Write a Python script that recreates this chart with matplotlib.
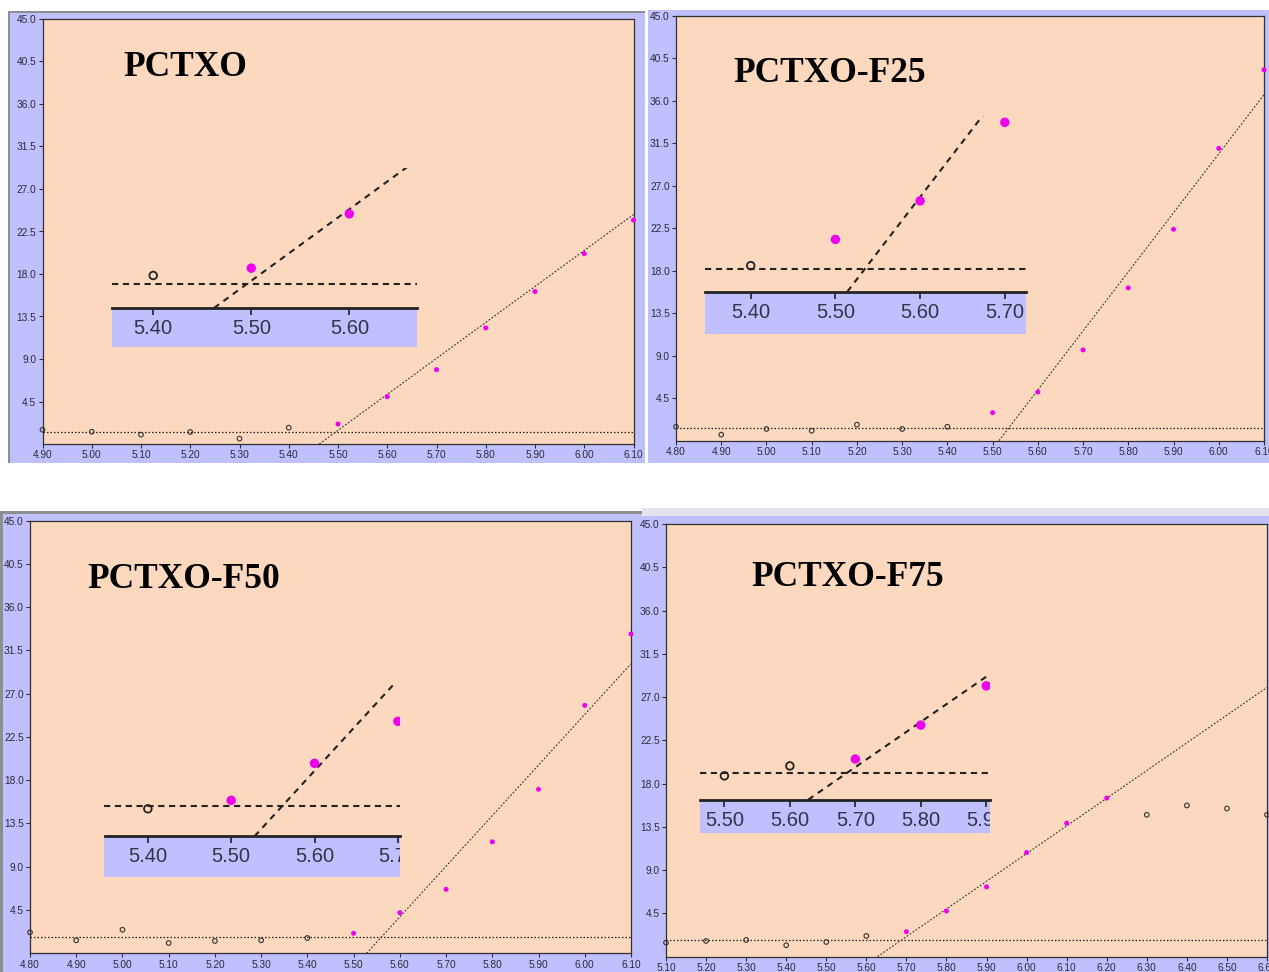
import matplotlib
matplotlib.use("Agg")
import numpy as np
import matplotlib.pyplot as plt
from matplotlib.patches import Rectangle
from matplotlib.transforms import Bbox, TransformedBbox

# ---------------- data ----------------
titles = ["PCTXO", "PCTXO-F25", "PCTXO-F50", "PCTXO-F75"]

# PCTXO
p0_open_x = [4.90, 5.00, 5.10, 5.20, 5.30, 5.40]
p0_open_y = [1.51, 1.30, 0.99, 1.27, 0.57, 1.73]
p0_fill_x = [5.50, 5.60, 5.70, 5.80, 5.90, 6.00, 6.10]
p0_fill_y = [2.12, 5.01, 7.87, 12.29, 16.14, 20.16, 23.7]
p0_base = 1.30
p0_fit_x = [5.462, 6.10]
p0_fit_y = [0.0, 24.3]

# PCTXO-F25
p1_open_x = [4.80, 4.90, 5.00, 5.10, 5.20, 5.30, 5.40]
p1_open_y = [1.48, 0.64, 1.24, 1.06, 1.70, 1.24, 1.48]
p1_fill_x = [5.50, 5.60, 5.70, 5.80, 5.90, 6.00, 6.10]
p1_fill_y = [2.97, 5.16, 9.62, 16.19, 22.4, 30.97, 39.3]
p1_base = 1.31
p1_fit_x = [5.514, 6.10]
p1_fit_y = [0.0, 36.66]

# PCTXO-F50
p2_open_x = [4.80, 4.90, 5.00, 5.10, 5.20, 5.30, 5.40]
p2_open_y = [2.18, 1.35, 2.45, 1.07, 1.28, 1.35, 1.59]
p2_fill_x = [5.50, 5.60, 5.70, 5.80, 5.90, 6.00, 6.10]
p2_fill_y = [2.08, 4.22, 6.65, 11.59, 17.06, 25.78, 33.2]
p2_base = 1.73
p2_fit_x = [5.528, 6.10]
p2_fit_y = [0.0, 30.1]

# PCTXO-F75
p3_open_x = [5.10, 5.20, 5.30, 5.40, 5.50, 5.60, 6.30, 6.40, 6.50, 6.60]
p3_open_y = [1.45, 1.63, 1.73, 1.18, 1.52, 2.15, 14.75, 15.72, 15.41, 14.75]
p3_fill_x = [5.70, 5.80, 5.90, 6.00, 6.10, 6.20]
p3_fill_y = [2.59, 4.75, 7.25, 10.82, 13.88, 16.49]
p3_base = 1.70
p3_fit_x = [5.628, 6.60]
p3_fit_y = [0.0, 28.0]

main_xlims = [(4.90, 6.10), (4.80, 6.10), (4.80, 6.10), (5.10, 6.60)]
inset_xlims = [(5.358, 5.669), (5.346, 5.725), (5.348, 5.703), (5.463, 5.906)]
inset_ytops = [7.45, 9.98, 8.75, 7.96]
y_ticks = [4.5, 9.0, 13.5, 18.0, 22.5, 27.0, 31.5, 36.0, 40.5, 45.0]

# ---------------- layout (pixels, y measured from top) ----------------
W, H = 1269, 972
LAV = "#C0C0FF"
PEACH = "#FCD9BE"
MAG = "#EE00EE"
GRAY = "#8E8E8E"

frames = [(8, 11, 645, 463), (648, 10, 1269, 463), (0, 512, 643, 972), (642, 511, 1269, 972)]
plot_boxes = [(42.5, 19, 633.5, 444), (676, 16, 1264, 440.7),
              (30, 520.5, 631, 953.3), (666, 524, 1267, 956.6)]
# inset: left, top, right, axis line, bottom of label band
inset_boxes = [(112, 168, 417, 308, 347), (705, 116, 1026, 291.7, 334),
               (104.5, 685, 400.4, 836.3, 877.3), (700.2, 674.7, 990.2, 799.7, 833)]
title_pos = [(123, 76), (733, 82), (87, 588), (751, 586)]

fig = plt.figure(figsize=(W / 100, H / 100), dpi=100)
fig.patch.set_facecolor("white")


def fbox(x0, y0, x1, y1):
    return [x0 / W, 1 - y1 / H, (x1 - x0) / W, (y1 - y0) / H]


def frect(x0, y0, x1, y1, color, z=-2):
    fig.add_artist(Rectangle((x0 / W, 1 - y1 / H), (x1 - x0) / W, (y1 - y0) / H,
                             transform=fig.transFigure, facecolor=color,
                             edgecolor="none", zorder=z))


# panel backgrounds and window borders
for fr in frames:
    frect(*fr, LAV)
frect(8, 11, 645, 13, GRAY, -1)
frect(8, 11, 10, 463, GRAY, -1)
frect(0, 511, 643, 514, GRAY, -1)
frect(0, 511, 3, 972, GRAY, -1)
frect(642, 508, 1269, 516, "#E4E4EC", -1)

panels = [
    (p0_open_x, p0_open_y, p0_fill_x, p0_fill_y, p0_base, p0_fit_x, p0_fit_y),
    (p1_open_x, p1_open_y, p1_fill_x, p1_fill_y, p1_base, p1_fit_x, p1_fit_y),
    (p2_open_x, p2_open_y, p2_fill_x, p2_fill_y, p2_base, p2_fit_x, p2_fit_y),
    (p3_open_x, p3_open_y, p3_fill_x, p3_fill_y, p3_base, p3_fit_x, p3_fit_y),
]

for i, (ox, oy, mx, my, base, fx, fy) in enumerate(panels):
    # ---- main axes ----
    ax = fig.add_axes(fbox(*plot_boxes[i]))
    ax.set_facecolor(PEACH)
    x0, x1 = main_xlims[i]
    ax.set_xlim(x0, x1)
    ax.set_ylim(0, 45)
    xt = np.round(np.arange(x0, x1 + 1e-6, 0.1), 2)
    ax.set_xticks(xt)
    ax.set_xticklabels([f"{v:.2f}" for v in xt])
    ax.set_yticks(y_ticks)
    ax.set_yticklabels([f"{v:.1f}" for v in y_ticks])
    ax.tick_params(length=3, width=0.8, pad=1.5, labelsize=7.3,
                   colors="#303030", labelcolor="#2a2a3a")
    for lbl in ax.get_xticklabels() + ax.get_yticklabels():
        lbl.set_family("Liberation Sans")
    for s in ax.spines.values():
        s.set_linewidth(0.9)
        s.set_color("#303030")

    ax.axhline(base, color="#202020", lw=0.9, ls=(0, (1.2, 1.6)), zorder=2)
    ax.plot(fx, fy, color="#333333", lw=0.8, ls=(0, (1.6, 1.6)), zorder=2)
    ax.scatter(ox, oy, s=11, facecolors="none", edgecolors="#333333",
               linewidths=0.8, zorder=3, clip_on=False)
    ax.scatter(mx, my, s=13, color=MAG, edgecolors="none", zorder=3, clip_on=False)

    # ---- magnified inset ----
    ix0, itop, ix1, iaxis, ibot = inset_boxes[i]
    ins = fig.add_axes(fbox(ix0, itop, ix1, iaxis))
    ins.patch.set_alpha(0)
    band = (ibot - iaxis) / (iaxis - itop)
    ins.add_artist(Rectangle((0, -band), 1, band, transform=ins.transAxes,
                             facecolor=LAV, edgecolor="none", clip_on=False, zorder=0.5))
    a0, a1 = inset_xlims[i]
    ins.set_xlim(a0, a1)
    ins.set_ylim(0, inset_ytops[i])
    for s in ("top", "right", "left"):
        ins.spines[s].set_visible(False)
    ins.spines["bottom"].set_linewidth(2)
    ins.spines["bottom"].set_color("#222222")
    ins.set_yticks([])
    it = np.round(np.arange(np.ceil(a0 * 10) / 10, a1 + 1e-6, 0.1), 2)
    ins.set_xticks(it)
    ins.set_xticklabels([f"{v:.2f}" for v in it])
    ins.tick_params(axis="x", length=5, width=1.2, pad=3, labelsize=14.5,
                    colors="#222222", labelcolor="#33334a")
    clipbox = TransformedBbox(Bbox([[0, -band], [1, 1]]), ins.transAxes)
    for tk in ins.xaxis.get_major_ticks():
        tk.label1.set_family("Liberation Sans")
        tk.label1.set_clip_box(clipbox)
        tk.label1.set_clip_on(True)

    ins.axhline(base, color="#222222", lw=1.5, ls=(0, (3, 2.2)), zorder=2)
    ins.plot(fx, fy, color="#222222", lw=1.5, ls=(0, (3, 2.6)), zorder=2)
    ins.scatter(ox, oy, s=30, facecolors="none", edgecolors="#222222",
                linewidths=1.3, zorder=3)
    ins.scatter(mx, my, s=46, color=MAG, edgecolors="none", zorder=3)

    # ---- panel title ----
    tx, ty = title_pos[i]
    fig.text(tx / W, 1 - ty / H, titles[i], family="Liberation Serif",
             weight="bold", fontsize=25.5, ha="left", va="baseline", color="black")

fig.savefig("out.png", dpi=100, facecolor="white")
